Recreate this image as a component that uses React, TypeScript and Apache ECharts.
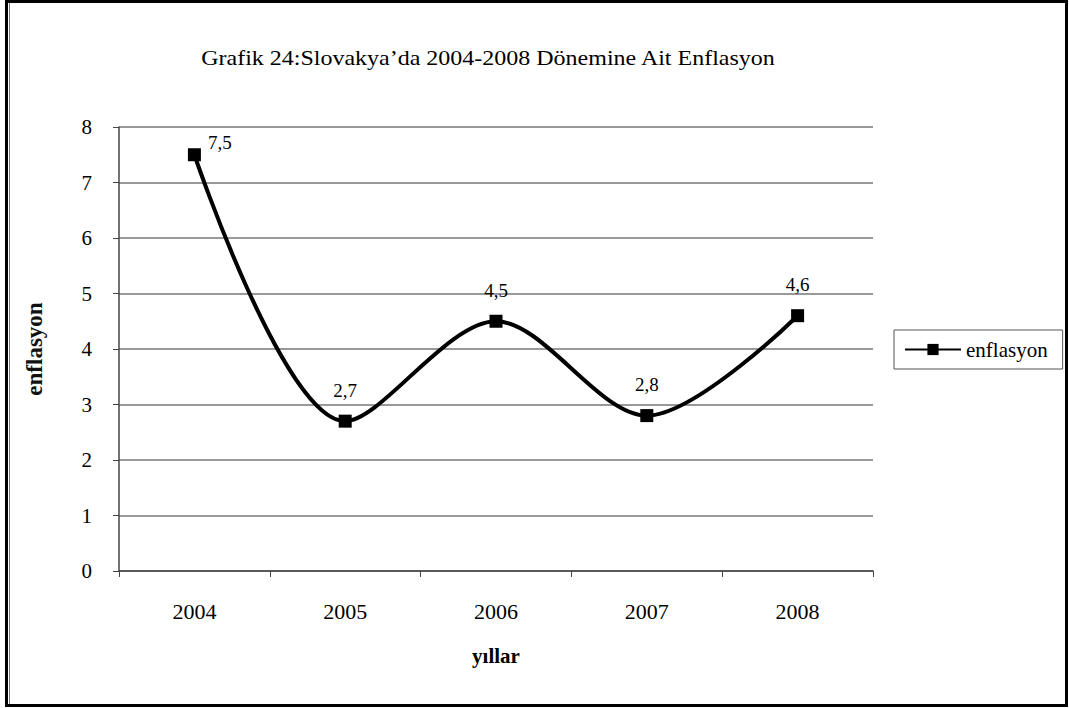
import React, { useEffect, useRef } from "react";
import * as echarts from "echarts";

const years = ["2004", "2005", "2006", "2007", "2008"];
const inflation = [7.5, 2.7, 4.5, 2.8, 4.6];
const seriesName = "enflasyon";
const titleText = "Grafik 24:Slovakya’da 2004-2008 Dönemine Ait Enflasyon";
const yAxisName = "enflasyon";
const xAxisName = "yıllar";

const FONT = "'Liberation Serif', 'Times New Roman', serif";

export default function App() {
  const ref = useRef<HTMLDivElement>(null);
  useEffect(() => {
    if (!ref.current) return;
    const chart = echarts.init(ref.current, null, { renderer: "svg" });
    chart.setOption({
      animation: false,
      backgroundColor: "#fff",
      legend: {
        data: [seriesName],
        left: 894,
        top: 330,
        orient: "vertical",
        borderColor: "#555",
        borderWidth: 1,
        padding: [9, 15, 9, 10],
        itemWidth: 56,
        itemHeight: 14,
        textStyle: { fontFamily: FONT, fontSize: 21, color: "#000" },
      },
      grid: { left: 119, right: 196, top: 127, bottom: 137, containLabel: false },
      xAxis: {
        type: "category",
        data: years,
        boundaryGap: true,
        name: xAxisName,
        nameLocation: "middle",
        nameGap: 74,
        nameTextStyle: { fontFamily: FONT, fontSize: 21, fontWeight: "bold", color: "#000" },
        axisLine: { lineStyle: { color: "#444", width: 1.5 } },
        axisTick: { show: true, alignWithLabel: false, length: 6, lineStyle: { color: "#444" } },
        axisLabel: { fontFamily: FONT, fontSize: 22, color: "#000", margin: 29 },
      },
      yAxis: {
        type: "value",
        min: 0,
        max: 8,
        interval: 1,
        name: yAxisName,
        nameLocation: "middle",
        nameGap: 73,
        nameRotate: 90,
        nameTextStyle: { fontFamily: FONT, fontSize: 23, fontWeight: "bold", color: "#111" },
        axisLine: { show: true, lineStyle: { color: "#444", width: 1.5 } },
        axisTick: { show: true, length: 6, lineStyle: { color: "#444" } },
        axisLabel: { fontFamily: FONT, fontSize: 21, color: "#000", margin: 27 },
        splitLine: { show: true, lineStyle: { color: "#777", width: 1.5 } },
      },
      series: [
        {
          name: seriesName,
          type: "line",
          data: inflation.map((v, i) =>
            i === 0
              ? { value: v, label: { position: "right", distance: 7, offset: [0, -12] } }
              : { value: v }
          ),
          smooth: 0.32,
          symbol: "rect",
          symbolSize: 13,
          itemStyle: { color: "#000" },
          lineStyle: { color: "#000", width: 4 },
          label: {
            show: true,
            position: "top",
            distance: 15,
            fontFamily: FONT,
            fontSize: 19,
            color: "#000",
            formatter: (p: any) => String(p.value).replace(".", ","),
          },
        },
      ],
      graphic: [
        {
          type: "text",
          x: 488,
          y: 58,
          scaleX: 1.2,
          silent: true,
          style: {
            text: titleText,
            textAlign: "center",
            textVerticalAlign: "middle",
            fontFamily: FONT,
            fontSize: 20,
            fill: "#000",
          },
        },
        {
          type: "rect",
          shape: { x: 6.5, y: 1.5, width: 1060, height: 704 },
          style: { fill: "none", stroke: "#000", lineWidth: 3 },
          silent: true,
        },
        {
          type: "line",
          shape: { x1: 9.5, y1: 3, x2: 9.5, y2: 704 },
          style: { stroke: "#777", lineWidth: 1 },
          silent: true,
        },
        {
          type: "rect",
          shape: { x: 0, y: 0, width: 5, height: 708 },
          style: { fill: "#fff" },
          silent: true,
        },
      ],
    });
    return () => chart.dispose();
  }, []);
  return (
    <div
      ref={ref}
      style={{ position: "fixed", left: 0, top: 0, width: 1069, height: 708, background: "#fff" }}
    />
  );
}
